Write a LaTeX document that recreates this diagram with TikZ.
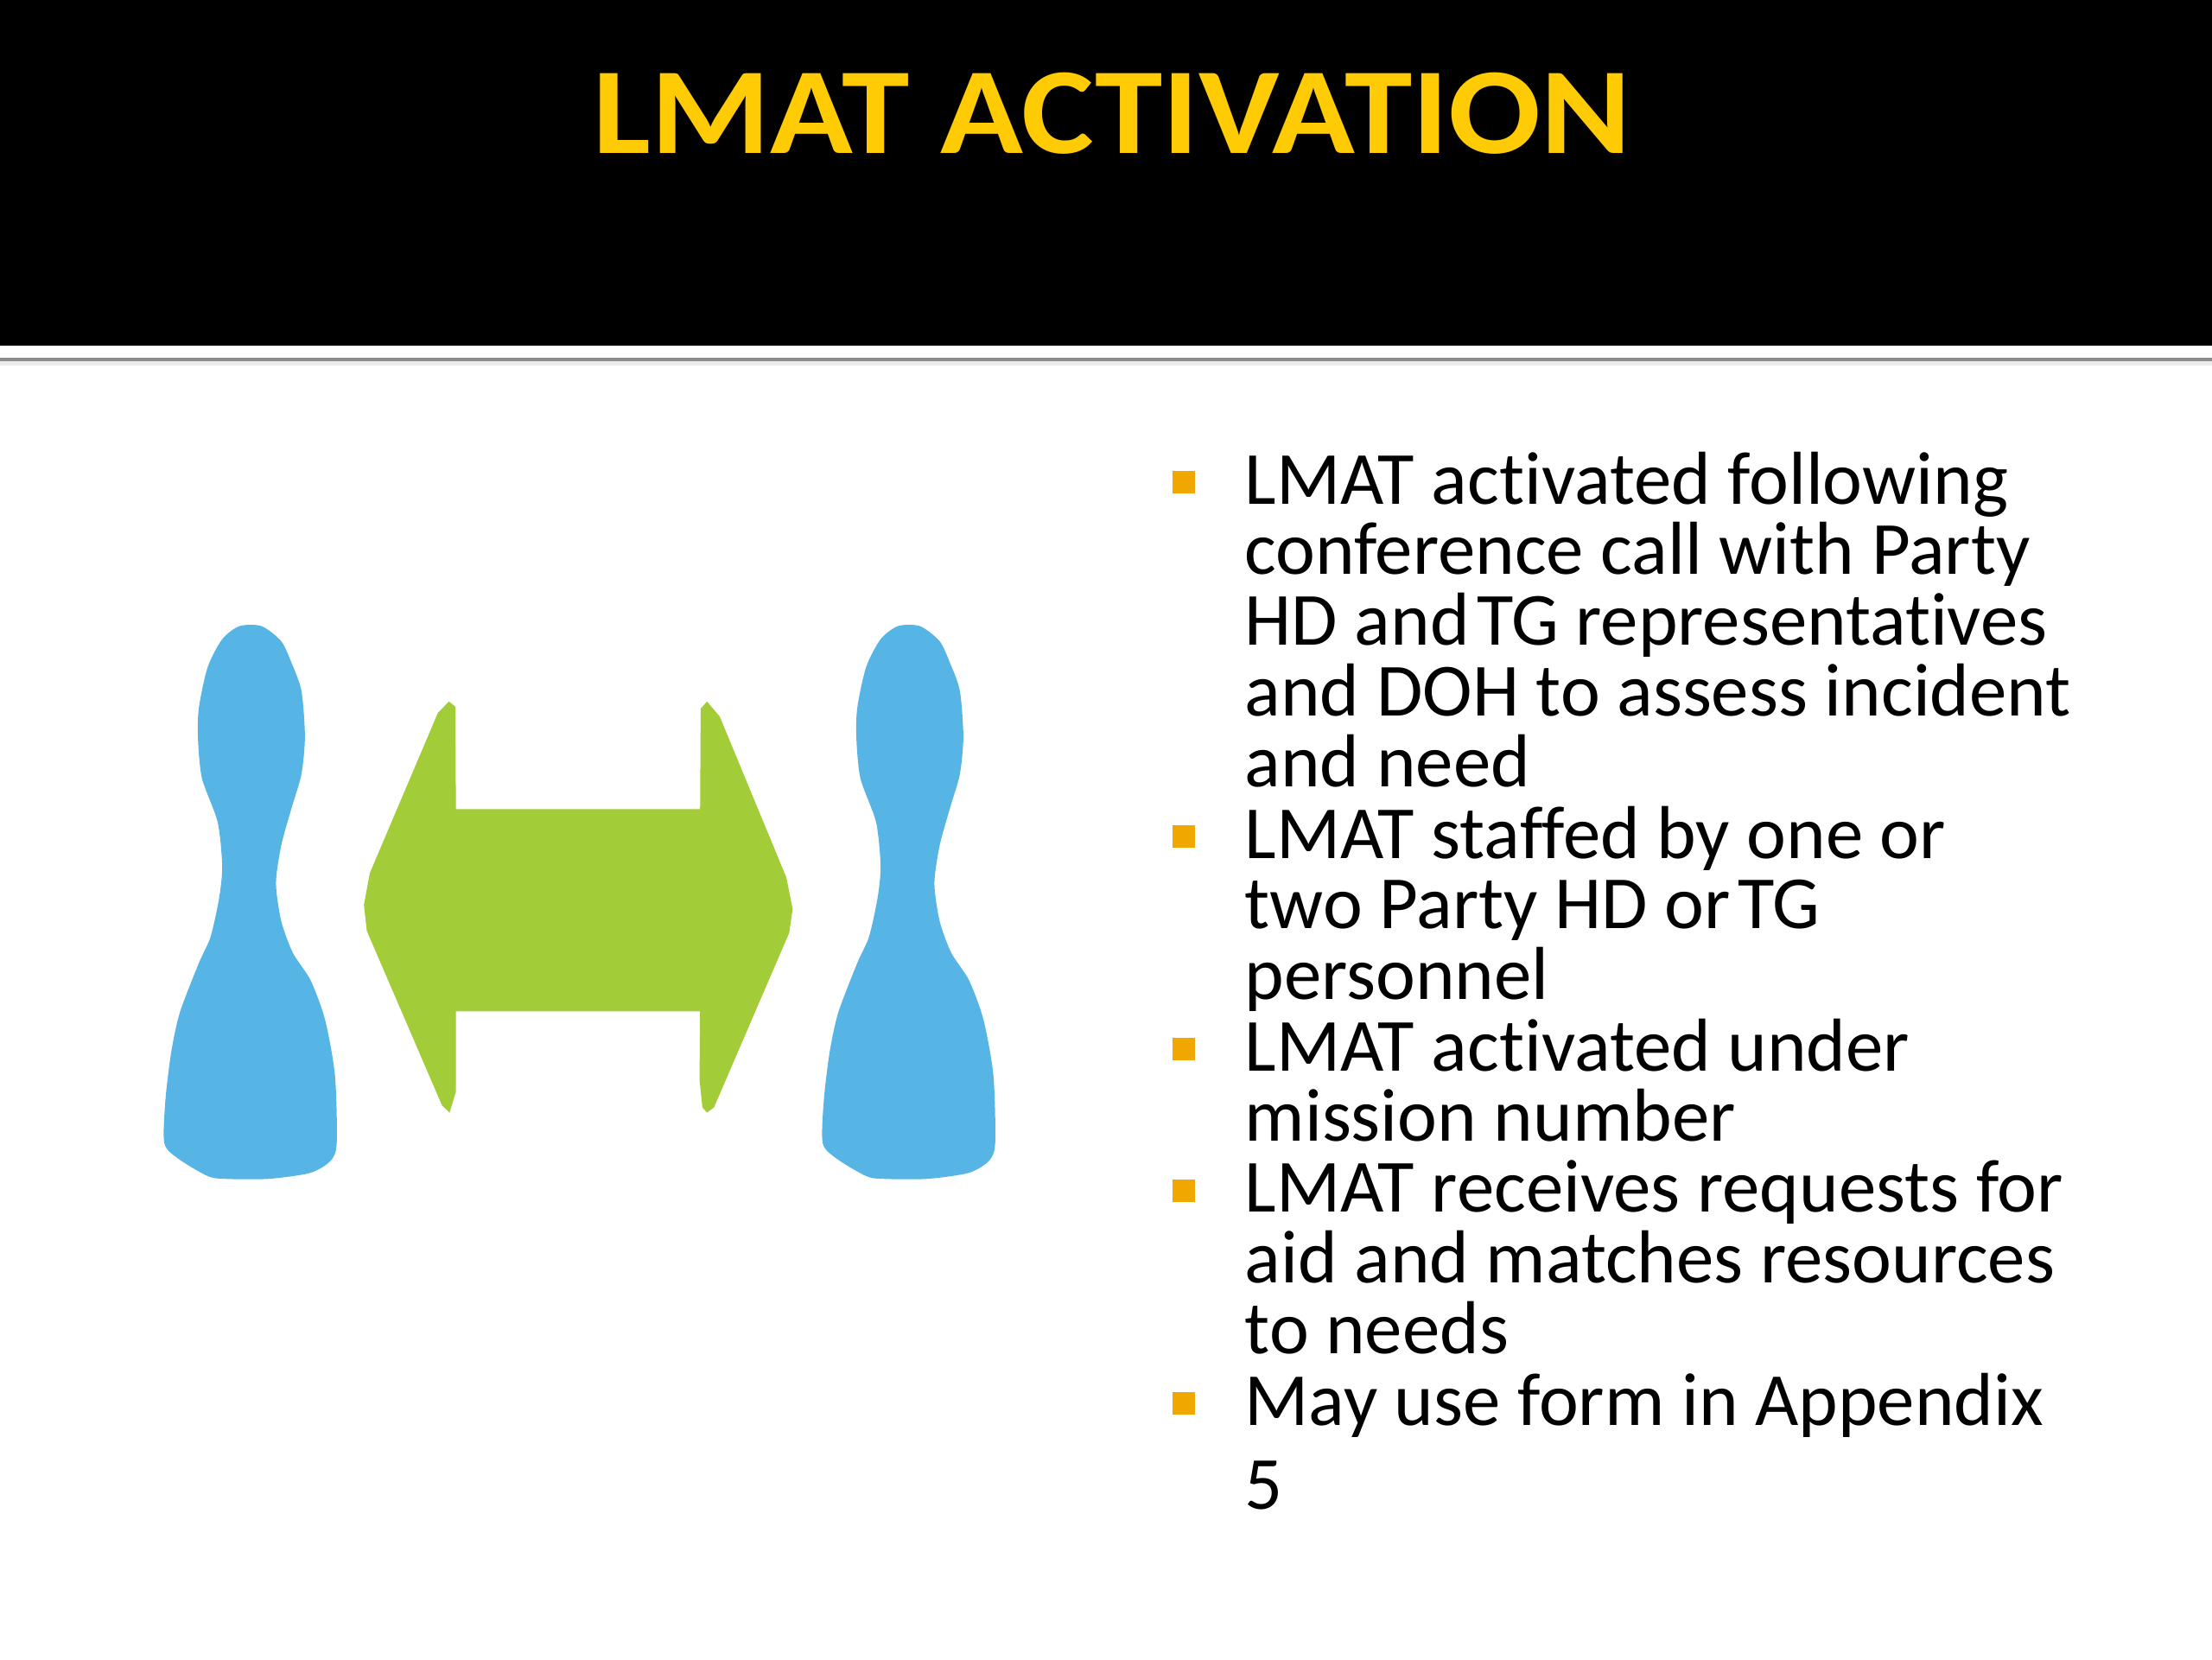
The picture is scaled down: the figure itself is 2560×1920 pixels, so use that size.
\documentclass[tikz,border=0pt]{standalone}
\usepackage{fontspec}
\setmainfont{Carlito}[Ligatures=NoCommon]
\newfontfamily\headfont{Carlito}[FakeStretch=1.11]
\definecolor{headyellow}{HTML}{FFCB05}
\definecolor{bulletorange}{HTML}{F0A800}
\definecolor{pinblue}{HTML}{57B5E6}
\definecolor{arrowgreen}{HTML}{A2CD39}
\tikzset{
  bodytext/.style={anchor=north west, align=left, inner sep=0pt, font=\fontsize{24.7}{23.3}\selectfont},
  bulletbox/.style={fill=bulletorange, minimum size=7.6pt, inner sep=0pt},
  zoomframe/.style={xscale=0.6696, yscale=0.4592},
}
\newcommand{\pinshape}{
  plot[smooth cycle, tension=0.45] coordinates {
    (190,97) (228,97) (262,135) (280,190) (297,260) (303,375) (297,470) (280,555)
    (262,650) (253,745) (262,840) (282,920) (313,990) (338,1090) (355,1230) (358,1400)
    (347,1445) (312,1475) (240,1490) (165,1490) (135,1483) (85,1440) (60,1400) (62,1290)
    (72,1170) (87,1070) (120,945) (140,880) (155,780) (160,700) (152,590) (125,480)
    (118,375) (120,300) (135,200) (160,130)}
}
\begin{document}
\begin{tikzpicture}[x=0.01cm, y=-0.01cm]
    \useasboundingbox (0, 0) rectangle (2560, 1920);

    % header band
    \fill[black] (0, 0) rectangle (2560, 400);
    \fill[white] (0, 400) rectangle (2560, 414);
    \fill[black!45] (0, 414) rectangle (2560, 418);
    \fill[black!8] (0, 418) rectangle (2560, 423);
    \node[text=headyellow, font=\headfont\bfseries\fontsize{40.5}{42}\selectfont] (title) at (1287, 131) {LMAT ACTIVATION};

    % two pins
    \begin{scope}[shift={(150, 680)}, zoomframe]
        \fill[pinblue] \pinshape;
    \end{scope}
    \begin{scope}[shift={(912, 680)}, zoomframe]
        \fill[pinblue] \pinshape;
    \end{scope}

    % double arrow
    \begin{scope}[shift={(150, 680)}, zoomframe]
        \fill[arrowgreen] (552, 287) -- (563, 300) -- (564, 558) -- (986, 558) -- (987, 305)
            -- (998, 287) -- (1020, 325) -- (1135, 730) -- (1146, 810) -- (1140, 870)
            -- (1010, 1310) -- (998, 1323) -- (990, 1310) -- (985, 1240) -- (986, 1068)
            -- (564, 1068) -- (564, 1270) -- (553, 1323) -- (540, 1305) -- (410, 865)
            -- (405, 800) -- (415, 720) -- (533, 315) -- cycle;
    \end{scope}

    % bullets
    \node[bulletbox] (bulletA) at (1370, 558) {};
    \node[bulletbox] (bulletB) at (1370, 968) {};
    \node[bulletbox] (bulletC) at (1370, 1214) {};
    \node[bulletbox] (bulletD) at (1370, 1378) {};
    \node[bulletbox] (bulletE) at (1370, 1624) {};

    \node[bodytext] (textA) at (1440, 522) {LMAT activated following\\conference call with Party\\HD and\hspace{0.1em}TG representatives\\and DOH to assess incident\\and need};
    \node[bodytext] (textB) at (1440, 932) {LMAT staffed by one or\\two Party HD or\hspace{0.1em}TG\\personnel};
    \node[bodytext] (textC) at (1440, 1178) {LMAT activated under\\mission number};
    \node[bodytext] (textD) at (1440, 1342) {LMAT receives requests for\\aid and matches resources\\to needs};
    \node[bodytext] (textE) at (1440, 1588) {May use form in Appendix\\[4.4pt]5};
\end{tikzpicture}
\end{document}
